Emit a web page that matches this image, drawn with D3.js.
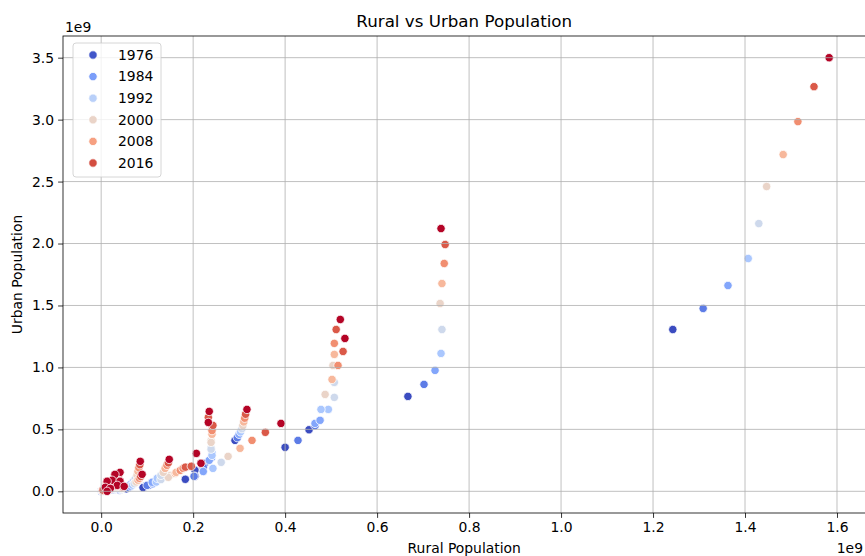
<!DOCTYPE html>
<html>
<head>
<meta charset="utf-8">
<script src="https://cdn.jsdelivr.net/npm/d3@7"></script>
<style>
  body { margin: 0; background: #fff; }
  text { font-family: "DejaVu Sans", sans-serif; fill: #000; }
</style>
</head>
<body>
<div id="chart"></div>
<script>
// years sampled for every region (hue)
const years = [1975, 1980, 1985, 1990, 1995, 2000, 2005, 2010, 2015, 2020];
const legendYears = [1976, 1984, 1992, 2000, 2008, 2016];
const xTicks = [0, 0.2, 0.4, 0.6, 0.8, 1.0, 1.2, 1.4, 1.6];
const yTicks = [0, 0.5, 1.0, 1.5, 2.0, 2.5, 3.0, 3.5];

// rural / urban population per region, in 1e9
const ruralA = [1.243, 1.309, 1.363, 1.407, 1.430, 1.447, 1.483, 1.515, 1.550, 1.583];
const urbanA = [1.306, 1.476, 1.661, 1.879, 2.161, 2.460, 2.718, 2.984, 3.266, 3.500];
const ruralB = [0.667, 0.702, 0.726, 0.739, 0.741, 0.737, 0.741, 0.746, 0.748, 0.739];
const urbanB = [0.766, 0.863, 0.976, 1.113, 1.306, 1.516, 1.677, 1.839, 1.992, 2.121];
const ruralC = [0.400, 0.428, 0.465, 0.494, 0.507, 0.504, 0.507, 0.507, 0.511, 0.520];
const urbanC = [0.355, 0.411, 0.548, 0.661, 0.879, 1.016, 1.105, 1.194, 1.306, 1.387];
const ruralD = [0.452, 0.465, 0.476, 0.478, 0.507, 0.487, 0.502, 0.515, 0.526, 0.530];
const urbanD = [0.497, 0.530, 0.573, 0.661, 0.758, 0.782, 0.903, 1.016, 1.129, 1.234];
const ruralE = [0.183, 0.202, 0.222, 0.243, 0.261, 0.276, 0.302, 0.328, 0.357, 0.391];
const urbanE = [0.097, 0.121, 0.160, 0.185, 0.234, 0.282, 0.347, 0.411, 0.476, 0.548];
const ruralF = [0.291, 0.296, 0.300, 0.303, 0.306, 0.308, 0.310, 0.312, 0.314, 0.317];
const urbanF = [0.411, 0.433, 0.460, 0.480, 0.505, 0.530, 0.560, 0.590, 0.622, 0.661];
const ruralG = [0.204, 0.226, 0.240, 0.241, 0.239, 0.239, 0.241, 0.241, 0.233, 0.235];
const urbanG = [0.170, 0.226, 0.270, 0.310, 0.350, 0.410, 0.490, 0.530, 0.597, 0.645];
const ruralH = [0.204, 0.222, 0.235, 0.241, 0.239, 0.239, 0.241, 0.241, 0.243, 0.233];
const urbanH = [0.121, 0.194, 0.250, 0.290, 0.340, 0.395, 0.460, 0.490, 0.532, 0.556];
const ruralI = [0.100, 0.111, 0.117, 0.124, 0.133, 0.150, 0.161, 0.172, 0.183, 0.217];
const urbanI = [0.048, 0.065, 0.081, 0.089, 0.121, 0.129, 0.145, 0.169, 0.195, 0.226];
const ruralJ = [0.095, 0.105, 0.112, 0.120, 0.130, 0.146, 0.163, 0.178, 0.196, 0.207];
const urbanJ = [0.040, 0.050, 0.060, 0.075, 0.095, 0.113, 0.153, 0.185, 0.202, 0.306];
const ruralK = [0.091, 0.100, 0.111, 0.122, 0.130, 0.135, 0.139, 0.143, 0.146, 0.148];
const urbanK = [0.030, 0.048, 0.073, 0.105, 0.129, 0.153, 0.185, 0.210, 0.230, 0.258];
const ruralL = [0.057, 0.061, 0.065, 0.070, 0.074, 0.078, 0.080, 0.082, 0.084, 0.085];
const urbanL = [0.030, 0.045, 0.060, 0.080, 0.100, 0.130, 0.160, 0.190, 0.215, 0.242];
const ruralM = [0.055, 0.060, 0.064, 0.068, 0.072, 0.076, 0.080, 0.083, 0.086, 0.089];
const urbanM = [0.020, 0.030, 0.040, 0.050, 0.062, 0.075, 0.090, 0.105, 0.120, 0.137];
const ruralN = [0.022, 0.024, 0.026, 0.028, 0.030, 0.032, 0.035, 0.037, 0.039, 0.041];
const urbanN = [0.030, 0.040, 0.052, 0.065, 0.078, 0.092, 0.106, 0.121, 0.137, 0.153];
const ruralO = [0.015, 0.017, 0.019, 0.021, 0.023, 0.025, 0.026, 0.028, 0.029, 0.030];
const urbanO = [0.025, 0.035, 0.045, 0.056, 0.068, 0.080, 0.093, 0.107, 0.122, 0.137];
const ruralP = [0.012, 0.013, 0.015, 0.016, 0.018, 0.019, 0.021, 0.022, 0.023, 0.024];
const urbanP = [0.015, 0.021, 0.028, 0.035, 0.043, 0.051, 0.060, 0.069, 0.079, 0.089];
const ruralQ = [0.004, 0.005, 0.006, 0.007, 0.008, 0.009, 0.010, 0.011, 0.012, 0.013];
const urbanQ = [0.012, 0.018, 0.024, 0.031, 0.038, 0.046, 0.054, 0.062, 0.071, 0.081];
const ruralR = [0.028, 0.030, 0.032, 0.033, 0.035, 0.036, 0.037, 0.039, 0.040, 0.041];
const urbanR = [0.020, 0.026, 0.032, 0.039, 0.046, 0.053, 0.060, 0.067, 0.074, 0.081];
const ruralS = [0.002, 0.003, 0.004, 0.005, 0.005, 0.006, 0.007, 0.008, 0.008, 0.009];
const urbanS = [0.005, 0.008, 0.011, 0.014, 0.017, 0.020, 0.023, 0.026, 0.029, 0.032];
const ruralT = [0.026, 0.027, 0.028, 0.029, 0.030, 0.031, 0.032, 0.033, 0.034, 0.035];
const urbanT = [0.012, 0.016, 0.020, 0.024, 0.028, 0.032, 0.036, 0.040, 0.044, 0.048];
const ruralU = [0.040, 0.041, 0.042, 0.043, 0.044, 0.045, 0.046, 0.047, 0.048, 0.050];
const urbanU = [0.010, 0.013, 0.016, 0.019, 0.022, 0.026, 0.029, 0.032, 0.036, 0.040];
const ruralV = [0.012, 0.013, 0.014, 0.015, 0.016, 0.017, 0.017, 0.018, 0.019, 0.020];
const urbanV = [0.005, 0.007, 0.009, 0.011, 0.013, 0.015, 0.017, 0.019, 0.021, 0.024];
const ruralW = [0.001, 0.001, 0.002, 0.002, 0.002, 0.003, 0.003, 0.003, 0.004, 0.013];
const urbanW = [0.000, 0.001, 0.002, 0.003, 0.004, 0.005, 0.006, 0.008, 0.009, 0.000];

const regions = [
  [ruralA, urbanA], [ruralB, urbanB], [ruralC, urbanC], [ruralD, urbanD],
  [ruralE, urbanE], [ruralF, urbanF], [ruralG, urbanG], [ruralH, urbanH],
  [ruralI, urbanI], [ruralJ, urbanJ], [ruralK, urbanK], [ruralL, urbanL],
  [ruralM, urbanM], [ruralN, urbanN], [ruralO, urbanO], [ruralP, urbanP],
  [ruralQ, urbanQ], [ruralR, urbanR], [ruralS, urbanS], [ruralT, urbanT],
  [ruralU, urbanU], [ruralV, urbanV], [ruralW, urbanW]
];

// matplotlib "coolwarm"
const coolwarm = ['#3b4cc0', '#445acc', '#4d68d7', '#5775e1', '#6282ea', '#6c8ef1', '#779af7',
  '#82a5fb', '#8db0fe', '#98b9ff', '#a3c2ff', '#aec9fd', '#b8d0f9', '#c2d5f4', '#ccd9ee',
  '#d5dbe6', '#dddddd', '#e5d8d1', '#ecd3c5', '#f1ccb9', '#f5c4ad', '#f7bba0', '#f7b194',
  '#f7a687', '#f49a7b', '#f18d6f', '#ec7f63', '#e57058', '#de604d', '#d55042', '#cb3e38',
  '#c0282f', '#b40426'];

const width = 865, height = 556;
const x = d3.scaleLinear().domain([-0.083, 1.662]).range([63, 865.5]);
const y = d3.scaleLinear().domain([-0.175, 3.675]).range([513, 36]);
const hueT = d3.scaleLinear().domain([1975, 2020]).range([0, 1]).clamp(true);
const cmap = d3.piecewise(d3.interpolateRgb, coolwarm);
const color = yr => cmap(hueT(yr));

const svg = d3.select('#chart').append('svg')
  .attr('width', width)
  .attr('height', height);

// points, drawn year by year so later years sit on top
const points = [];
years.forEach((yr, i) => {
  regions.forEach(r => points.push({ rural: r[0][i], urban: r[1][i], year: yr }));
});

svg.append('g')
  .attr('class', 'points')
  .selectAll('circle')
  .data(points)
  .join('circle')
  .attr('cx', d => x(d.rural))
  .attr('cy', d => y(d.urban))
  .attr('r', 4.2)
  .attr('fill', d => color(d.year))
  .attr('stroke', '#fff')
  .attr('stroke-width', 0.8);

// grid (over the points, like matplotlib)
const grid = svg.append('g').attr('class', 'grid');
grid.selectAll('line.gx')
  .data(xTicks)
  .join('line')
  .attr('class', 'gx')
  .attr('x1', d => x(d)).attr('x2', d => x(d))
  .attr('y1', y.range()[0]).attr('y2', y.range()[1]);
grid.selectAll('line.gy')
  .data(yTicks)
  .join('line')
  .attr('class', 'gy')
  .attr('x1', x.range()[0]).attr('x2', x.range()[1])
  .attr('y1', d => y(d)).attr('y2', d => y(d));
grid.selectAll('line')
  .attr('stroke', '#b0b0b0')
  .attr('stroke-width', 0.8);

// axes
const xAxis = svg.append('g')
  .attr('transform', `translate(0, ${y.range()[0]})`)
  .call(d3.axisBottom(x).tickValues(xTicks).tickFormat(d3.format('.1f'))
    .tickSize(4.9).tickPadding(4).tickSizeOuter(0));
const yAxis = svg.append('g')
  .attr('transform', `translate(${x.range()[0]}, 0)`)
  .call(d3.axisLeft(y).tickValues(yTicks).tickFormat(d3.format('.1f'))
    .tickSize(4.9).tickPadding(4).tickSizeOuter(0));
[xAxis, yAxis].forEach(a => {
  a.select('.domain').remove();
  a.selectAll('.tick line').attr('stroke', '#000').attr('stroke-width', 0.8);
  a.selectAll('.tick text').attr('font-size', '13.9px').attr('fill', '#000')
    .attr('font-family', '"DejaVu Sans", sans-serif');
});

// frame
svg.append('rect')
  .attr('x', x.range()[0])
  .attr('y', y.range()[1])
  .attr('width', x.range()[1] - x.range()[0])
  .attr('height', y.range()[0] - y.range()[1])
  .attr('fill', 'none')
  .attr('stroke', '#000')
  .attr('stroke-width', 0.8);

// titles and labels
svg.append('text')
  .attr('x', (x.range()[0] + x.range()[1]) / 2)
  .attr('y', 27)
  .attr('text-anchor', 'middle')
  .attr('font-size', '16.7px')
  .text('Rural vs Urban Population');

svg.append('text')
  .attr('x', (x.range()[0] + x.range()[1]) / 2)
  .attr('y', 553)
  .attr('text-anchor', 'middle')
  .attr('font-size', '13.9px')
  .text('Rural Population');

svg.append('text')
  .attr('transform', `translate(22, ${(y.range()[0] + y.range()[1]) / 2}) rotate(-90)`)
  .attr('text-anchor', 'middle')
  .attr('font-size', '13.9px')
  .text('Urban Population');

svg.append('text')
  .attr('x', 65).attr('y', 31.5)
  .attr('font-size', '13.9px')
  .text('1e9');

svg.append('text')
  .attr('x', 863).attr('y', 553)
  .attr('text-anchor', 'end')
  .attr('font-size', '13.9px')
  .text('1e9');

// legend
const legend = svg.append('g').attr('transform', 'translate(73, 43)');
legend.append('rect')
  .attr('width', 88).attr('height', 134)
  .attr('rx', 3)
  .attr('fill', '#fff').attr('fill-opacity', 0.8)
  .attr('stroke', '#cccccc').attr('stroke-width', 0.8);
const rows = legend.selectAll('g.row')
  .data(legendYears)
  .join('g')
  .attr('class', 'row')
  .attr('transform', (d, i) => `translate(0, ${12 + i * 21.6})`);
rows.append('circle')
  .attr('cx', 20).attr('cy', 0).attr('r', 4.2)
  .attr('fill', d => color(d))
  .attr('stroke', '#fff').attr('stroke-width', 0.8);
rows.append('text')
  .attr('x', 45).attr('y', 0)
  .attr('dy', '0.35em')
  .attr('font-size', '13.9px')
  .text(d => d);
</script>
</body>
</html>
